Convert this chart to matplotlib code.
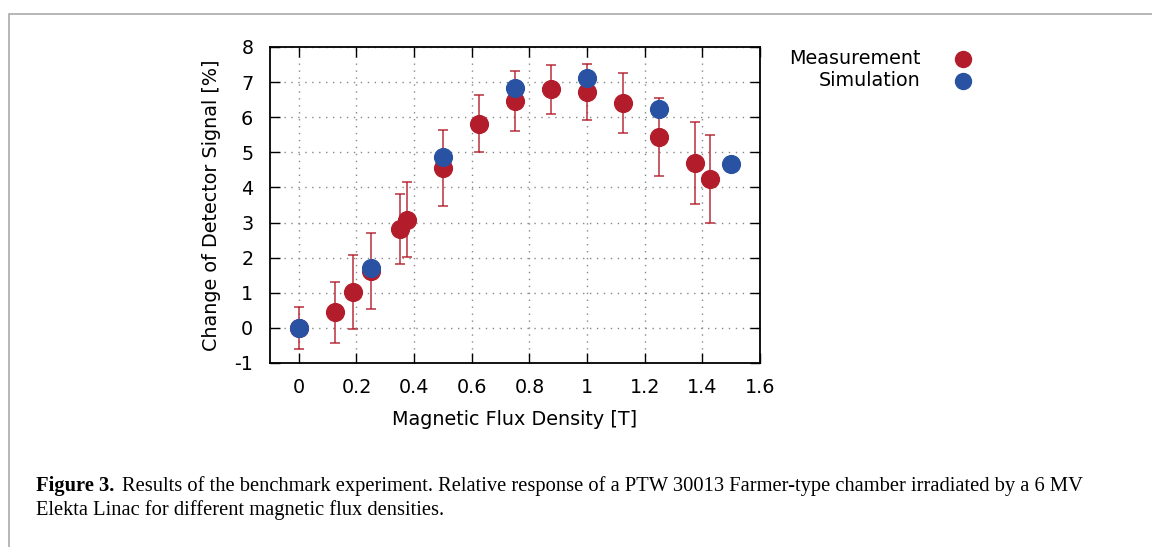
import matplotlib.pyplot as plt
from matplotlib.patches import Rectangle

plt.rcParams["axes.unicode_minus"] = False

# measurement data
meas_x = [0.0, 0.125, 0.1875, 0.25, 0.35, 0.375, 0.5, 0.625, 0.75, 0.875, 1.0, 1.125, 1.25, 1.375, 1.425]
meas_y = [0.0, 0.45, 1.02, 1.62, 2.82, 3.08, 4.55, 5.81, 6.46, 6.80, 6.72, 6.40, 5.44, 4.70, 4.24]
meas_err = [0.6, 0.87, 1.05, 1.08, 1.0, 1.07, 1.09, 0.81, 0.85, 0.7, 0.79, 0.85, 1.12, 1.17, 1.26]

# simulation data
sim_x = [0.0, 0.25, 0.5, 0.75, 1.0, 1.25, 1.5]
sim_y = [0.0, 1.70, 4.88, 6.82, 7.13, 6.22, 4.67]

xticks = [0, 0.2, 0.4, 0.6, 0.8, 1, 1.2, 1.4, 1.6]
xtick_labels = ["0", "0.2", "0.4", "0.6", "0.8", "1", "1.2", "1.4", "1.6"]
yticks = list(range(-1, 9))

red = "#b31d2b"
blue = "#2952a3"
fs = 13.8

fig = plt.figure(figsize=(11.52, 5.47), dpi=100)
ax = fig.add_axes([270 / 1152, 1 - 363 / 547, 490 / 1152, 316 / 547])

ax.errorbar(meas_x, meas_y, yerr=meas_err, fmt="none", ecolor=red, elinewidth=1.2,
            capsize=3.5, capthick=1.2, alpha=0.85, zorder=2)
ax.plot(meas_x, meas_y, "o", color=red, markersize=12.8, zorder=3)
ax.plot(sim_x, sim_y, "o", color=blue, markersize=12.8, zorder=4)

ax.set_xlim(-0.1, 1.6)
ax.set_ylim(-1, 8)
ax.set_xticks(xticks)
ax.set_xticklabels(xtick_labels)
ax.set_yticks(yticks)
ax.tick_params(direction="in", length=7, width=1, labelsize=fs, top=True, right=True,
               pad=11)
ax.tick_params(axis="y", pad=12)
ax.grid(True, linestyle=(0, (1, 4)), color="#888888", linewidth=1)
for s in ax.spines.values():
    s.set_linewidth(1.3)

ax.set_xlabel("Magnetic Flux Density [T]", fontsize=fs, labelpad=9)
ax.set_ylabel("Change of Detector Signal [%]", fontsize=fs, labelpad=10)

# legend drawn as gnuplot-style key
fig.text(921 / 1152, 1 - 59 / 547, "Measurement", ha="right", va="center", fontsize=fs)
fig.text(921 / 1152, 1 - 81 / 547, "Simulation", ha="right", va="center", fontsize=fs)
fig.lines.append(plt.Line2D([963 / 1152], [1 - 59 / 547], marker="o", color=red,
                            markersize=11.5, transform=fig.transFigure))
fig.lines.append(plt.Line2D([963 / 1152], [1 - 81 / 547], marker="o", color=blue,
                            markersize=11.5, transform=fig.transFigure))

# page frame
fig.patches.append(Rectangle((9 / 1152, -0.05), 1.1, 1 - 13.5 / 547 + 0.05, fill=False,
                             edgecolor="#aaaaaa", linewidth=1.2, transform=fig.transFigure))

cap = {"family": "Liberation Serif", "fontsize": 14.8}
fig.text(36 / 1152, 1 - 486 / 547, "Figure 3.", fontweight="bold", va="center", **cap)
fig.text(122 / 1152, 1 - 486 / 547,
         "Results of the benchmark experiment. Relative response of a PTW 30013 Farmer-type chamber irradiated by a 6 MV",
         va="center", **cap)
fig.text(36 / 1152, 1 - 510 / 547, "Elekta Linac for different magnetic flux densities.",
         va="center", **cap)

fig.savefig("out.png", dpi=100)
